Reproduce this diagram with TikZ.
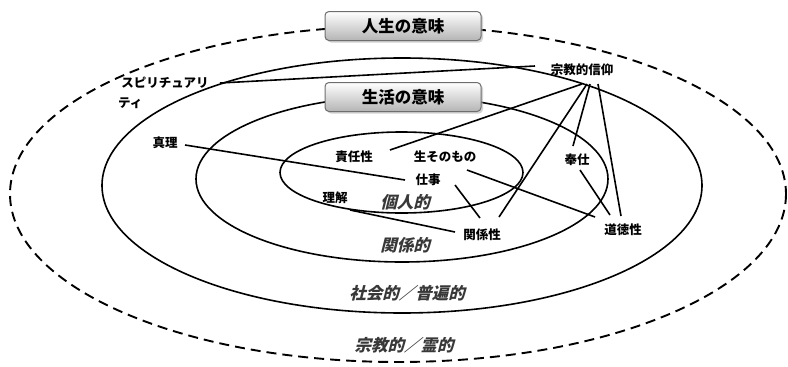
\documentclass[tikz,border=0pt]{standalone}
\usepackage{fontspec}
\setmainfont{Noto Sans CJK JP}
\newfontfamily\jp{Noto Sans CJK JP}
\newfontfamily\jpit{Noto Sans CJK JP}[FakeSlant=0.25,BoldFeatures={FakeSlant=0.25}]
\usetikzlibrary{calc,shadows}
\definecolor{boxtop}{HTML}{FFFFFF}
\definecolor{boxbot}{HTML}{B4B4B4}
\definecolor{boxline}{HTML}{6E6E6E}
\definecolor{ringtxt}{HTML}{383838}
\begin{document}
\begin{tikzpicture}[x=1pt,y=-1pt,
  ring/.style={draw=black,line width=1.6pt},
  outerring/.style={draw=black,line width=1.9pt,dash pattern=on 10pt off 6pt},
  link/.style={draw=black,line width=1.6pt},
  lbl/.style={font=\jp\bfseries\fontsize{12.5}{14}\selectfont,inner sep=1pt},
  ringlbl/.style={font=\jpit\bfseries\fontsize{16.5}{18}\selectfont,text=ringtxt,inner sep=1pt},
  titlebox/.style={draw=boxline,line width=1pt,rounded corners=4pt,top color=boxtop,bottom color=boxbot,
    minimum width=156pt,minimum height=29pt,inner sep=0pt,
    font=\jp\bfseries\fontsize{16.5}{18}\selectfont,
    drop shadow={shadow xshift=2pt,shadow yshift=-2pt,fill=black!35}}]
\useasboundingbox (0,0) rectangle (788,367);

% rings
\draw[outerring] (398,194) ellipse [x radius=388, y radius=168];
\draw[ring] (402,185.5) ellipse [x radius=300, y radius=127.5];
\draw[ring] (402,179) ellipse [x radius=206, y radius=83];
\draw[ring] (401.5,172.5) ellipse [x radius=121.5, y radius=40.5];

% title boxes
\node[titlebox] (life) at (403,26) {人生の意味};
\node[titlebox] (living) at (403,97) {生活の意味};

% labels
\node[lbl] (spirit1) at (165,83) {スピリチュアリ};
\node[lbl,anchor=west] (spirit2) at (117,103) {ティ};
\node[lbl] (shukyo) at (582,70) {宗教的信仰};
\node[lbl] (shinri) at (165,143) {真理};
\node[lbl] (sekinin) at (354,157) {責任性};
\node[lbl] (namasono) at (445,157) {生そのもの};
\node[lbl] (shigoto) at (428,180) {仕事};
\node[lbl] (rikai) at (335,198) {理解};
\node[lbl] (kankeisei) at (482,235) {関係性};
\node[lbl] (houshi) at (577,160) {奉仕};
\node[lbl] (doutoku) at (623,230) {道徳性};

% ring labels
\node[ringlbl] (kojin) at (405,202) {個人的};
\node[ringlbl] (kankei) at (405,245) {関係的};
\node[ringlbl] (shakai) at (407,293) {社会的／普遍的};
\node[ringlbl] (rei) at (404,345) {宗教的／霊的};

% connectors
\draw[link] ($(spirit1)+(55,0)$) -- ($(shukyo)+(-47,-4)$);
\draw[link] ($(shukyo)+(0,14)$) -- ($(sekinin)+(36,-7)$);
\draw[link] ($(shukyo)+(5,14)$) -- ($(kankeisei)+(17,-18)$);
\draw[link] ($(shukyo)+(8,14)$) -- ($(houshi)+(-4,-14)$);
\draw[link] ($(shukyo)+(16,14)$) -- ($(doutoku)+(-2,-14)$);
\draw[link] ($(shinri)+(20,2)$) -- ($(shigoto)+(-23,0)$);
\draw[link] ($(shigoto)+(39,-10)$) -- ($(doutoku)+(-28,-13)$);
\draw[link] ($(shigoto)+(27,5)$) -- ($(kankeisei)+(-2,-17)$);
\draw[link] ($(rikai)+(15,12)$) -- ($(kankeisei)+(-27,-3)$);
\draw[link] ($(houshi)+(3,10)$) -- ($(doutoku)+(-13,-15)$);
\end{tikzpicture}
\end{document}
